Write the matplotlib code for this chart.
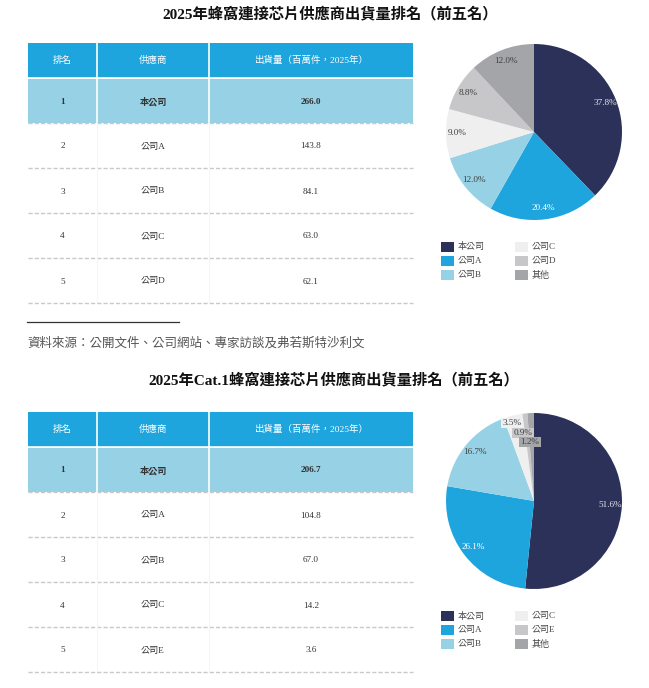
import matplotlib
matplotlib.use('Agg')
import matplotlib.pyplot as plt
from matplotlib.patches import Rectangle

plt.rcParams['font.family'] = ['Liberation Serif', 'Noto Sans CJK TC']

# ---- data ----
title1 = '2025年蜂窩連接芯片供應商出貨量排名（前五名）'
title2 = '2025年Cat.1蜂窩連接芯片供應商出貨量排名（前五名）'
headers = ['排名', '供應商', '出貨量（百萬件，2025年）']
ranks = ['1', '2', '3', '4', '5']
vendors1 = ['本公司', '公司A', '公司B', '公司C', '公司D']
volumes1 = [266.0, 143.8, 84.1, 63.0, 62.1]
vendors2 = ['本公司', '公司A', '公司B', '公司C', '公司E']
volumes2 = [206.7, 104.8, 67.0, 14.2, 3.6]
pie_labels1 = ['本公司', '公司A', '公司B', '公司C', '公司D', '其他']
pie_share1 = [37.8, 20.4, 12.0, 9.0, 8.8, 12.0]
pie_labels2 = ['本公司', '公司A', '公司B', '公司C', '公司E', '其他']
pie_share2 = [51.6, 26.1, 16.7, 3.5, 0.9, 1.2]
source = '資料來源：公開文件、公司網站、專家訪談及弗若斯特沙利文'

colors = ['#2b3158', '#1fa5de', '#96d1e5', '#efefef', '#c7c7c9', '#a4a5a9']
pct_colors = ['#e6e6ee', '#ffffff', '#404040', '#404040', '#404040', '#404040']

W, H = 649, 688
fig = plt.figure(figsize=(W / 100, H / 100), dpi=100)
bg = fig.add_axes([0, 0, 1, 1])
bg.set_xlim(0, W)
bg.set_ylim(H, 0)
bg.axis('off')

cols = [28, 97, 209, 413]


def draw_table(top, vendors, volumes):
    head_h = 35
    row_h = 45
    # header
    bg.add_patch(Rectangle((cols[0], top), cols[3] - cols[0], head_h, color='#1fa5de', lw=0))
    for i in range(3):
        cx = (cols[i] + cols[i + 1]) / 2
        bg.text(cx, top + head_h / 2, headers[i], color='white', fontsize=6.8,
                ha='center', va='center')
    y0 = top + head_h
    for r in range(len(ranks)):
        y = y0 + r * row_h
        if r == 0:
            bg.add_patch(Rectangle((cols[0], y + 1), cols[3] - cols[0], row_h - 1,
                                   color='#96d1e5', lw=0))
            vcol = 'white'
            wt = 'bold'
        else:
            vcol = '#f6f6f6'
            wt = 'normal'
        for x in cols[1:3]:
            bg.plot([x, x], [y, y + row_h], color=vcol, lw=1.2 if r == 0 else 0.8)
        vals = [ranks[r], vendors[r], '%.1f' % volumes[r]]
        for i in range(3):
            cx = (cols[i] + cols[i + 1]) / 2
            bg.text(cx, y + row_h / 2 + 1, vals[i], color='#333333', fontsize=6.6,
                    ha='center', va='center', fontweight=wt)
        bg.plot([cols[0], cols[3]], [y + row_h, y + row_h], color='#c9c9c9',
                lw=1.0, ls=(0, (3, 1.5)))
    # header dividers
    for x in cols[1:3]:
        bg.plot([x, x], [top, top + head_h], color='white', lw=1.2)
    bg.plot([cols[0], cols[3]], [top + head_h, top + head_h], color='white', lw=1.2)


def draw_pie(cx, cy, shares, labels, small_pos=None):
    r = 88
    ax = fig.add_axes([(cx - r) / W, (H - cy - r) / H, 2 * r / W, 2 * r / H])
    wedges, texts, autotexts = ax.pie(shares, colors=colors, startangle=90,
                                      counterclock=False, autopct='%.1f%%',
                                      pctdistance=0.87,
                                      wedgeprops=dict(linewidth=0))
    for t, c in zip(autotexts, pct_colors):
        t.set_color(c)
        t.set_fontsize(6.6)
    if small_pos:
        for idx, (px, py) in small_pos.items():
            t = autotexts[idx]
            t.set_position(((px - cx) / r, (cy - py) / r))
            t.set_color('#404040')
            t.set_bbox(dict(facecolor=colors[idx], edgecolor='none', pad=0.8))
    ax.set_xlim(-1, 1)
    ax.set_ylim(-1, 1)
    ax.axis('off')
    # legend
    ly = cy + 115
    for i, lab in enumerate(labels):
        col, row = divmod(i, 3)
        x = 441 + col * 74
        y = ly + row * 14
        bg.add_patch(Rectangle((x, y - 5), 13, 10, color=colors[i], lw=0))
        bg.text(x + 17, y, lab, fontsize=6.5, color='#444444', ha='left', va='center')


bg.text(330, 14, title1, fontsize=11, fontweight='bold', ha='center', va='center',
        color='#111111')
draw_table(43, vendors1, volumes1)
draw_pie(534, 132, pie_share1, pie_labels1)

bg.plot([27, 179], [322, 322], color='#333333', lw=0.9)
bg.text(27, 343, source, fontsize=9, style='italic', color='#555555',
        ha='left', va='center')

bg.text(334, 380, title2, fontsize=11, fontweight='bold', ha='center', va='center',
        color='#111111')
draw_table(412, vendors2, volumes2)
draw_pie(534, 501, pie_share2, pie_labels2,
         small_pos={3: (512, 423), 4: (523, 433), 5: (530, 442)})

fig.savefig('out.png', dpi=100)
